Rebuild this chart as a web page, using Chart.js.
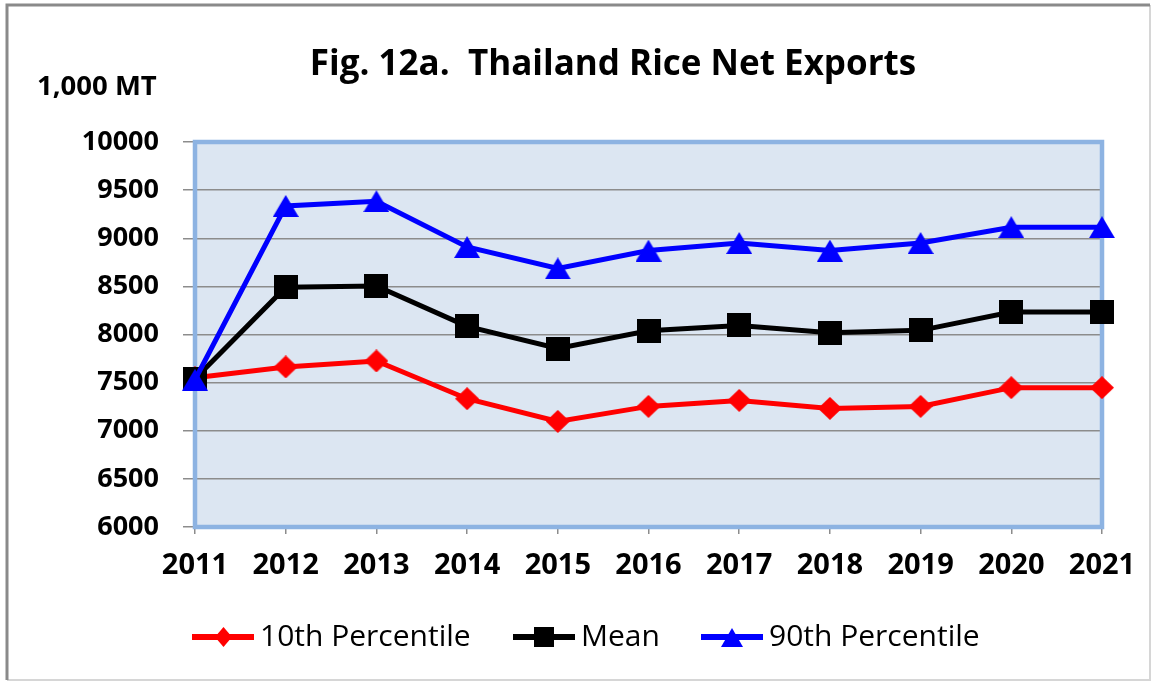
<!DOCTYPE html>
<html>
<head>
<meta charset="utf-8">
<script src="https://cdn.jsdelivr.net/npm/chart.js@4.4.1/dist/chart.umd.min.js"></script>
<style>
html,body{margin:0;padding:0;background:#fff;}
#wrap{width:1153px;height:682px;position:relative;}
canvas{display:block;}
</style>
</head>
<body>
<div id="wrap"><canvas id="c" width="1153" height="682"></canvas></div>
<script>
// ---- data ----
const years = ['2011','2012','2013','2014','2015','2016','2017','2018','2019','2020','2021'];
const p10Values  = [7550, 7663, 7725, 7333, 7097, 7253, 7315, 7232, 7253, 7448, 7448];
const meanValues = [7540, 8490, 8505, 8085, 7854, 8038, 8094, 8018, 8043, 8233, 8233];
const p90Values  = [7530, 9336, 9385, 8909, 8687, 8872, 8951, 8872, 8951, 9115, 9115];
const yTickValues = [6000, 6500, 7000, 7500, 8000, 8500, 9000, 9500, 10000];
const seriesNames = ['10th Percentile', 'Mean', '90th Percentile'];
const titleText = 'Fig. 12a.  Thailand Rice Net Exports';
const unitText = '1,000 MT';

// ---- marker images ----
function makeMarker(kind, color, w, h) {
  const c = document.createElement('canvas');
  c.width = w; c.height = h;
  const g = c.getContext('2d');
  g.fillStyle = color;
  g.beginPath();
  if (kind === 'diamond') { g.moveTo(w/2,0); g.lineTo(w,h/2); g.lineTo(w/2,h); g.lineTo(0,h/2); }
  else if (kind === 'square') { g.rect(0,0,w,h); }
  else { g.moveTo(w/2,0); g.lineTo(w,h); g.lineTo(0,h); }
  g.closePath(); g.fill();
  return c;
}
const mkDiamond = makeMarker('diamond', '#ff0000', 24, 23);
const mkSquare = makeMarker('square', '#000000', 24, 24);
const mkTriangle = makeMarker('triangle', '#0000ff', 26, 22);
const legDiamond = makeMarker('diamond', '#ff0000', 17, 20);
const legSquare = makeMarker('square', '#000000', 20, 20);
const legTriangle = makeMarker('triangle', '#0000ff', 22, 19);

const colors = ['#ff0000', '#000000', '#0000ff'];
const legendMarkers = [legDiamond, legSquare, legTriangle];

// ---- plugins ----
const decor = {
  id: 'decor',
  beforeDraw(chart) {
    const ctx = chart.ctx, a = chart.chartArea;
    ctx.save();
    ctx.fillStyle = '#ffffff';
    ctx.fillRect(0, 0, chart.width, chart.height);
    // outer frame
    ctx.strokeStyle = '#d6d6d6'; ctx.lineWidth = 2;
    ctx.beginPath(); ctx.moveTo(1150, 5); ctx.lineTo(1150, 680); ctx.lineTo(7, 680); ctx.stroke();
    ctx.strokeStyle = '#8a8a8a'; ctx.lineWidth = 3;
    ctx.beginPath(); ctx.moveTo(7, 680); ctx.lineTo(7, 5); ctx.lineTo(1150, 5); ctx.stroke();
    // plot background
    ctx.fillStyle = '#dce6f2';
    ctx.fillRect(a.left, a.top, a.right - a.left, a.bottom - a.top);
    ctx.restore();
  },
  beforeDatasetsDraw(chart) {
    const ctx = chart.ctx, a = chart.chartArea;
    ctx.save();
    ctx.strokeStyle = '#8db3e2'; ctx.lineWidth = 4.5;
    ctx.strokeRect(a.left, a.top, a.right - a.left, a.bottom - a.top);
    ctx.restore();
  },
  afterDraw(chart) {
    const ctx = chart.ctx;
    ctx.save();
    ctx.fillStyle = '#000';
    ctx.textBaseline = 'alphabetic';
    // title
    ctx.font = 'bold 35px "Open Sans"';
    ctx.textAlign = 'center';
    ctx.fillText(titleText, 613, 75);
    // unit label
    ctx.font = 'bold 27.5px "Open Sans"';
    ctx.textAlign = 'left';
    ctx.fillText(unitText, 37, 95);
    // legend
    const starts = [192, 513, 701];
    const ly = 637;
    ctx.font = '30px "Open Sans"';
    chart.data.datasets.forEach((ds, i) => {
      const x0 = starts[i], x1 = x0 + 62;
      ctx.strokeStyle = colors[i]; ctx.lineWidth = 6; ctx.lineCap = 'butt';
      ctx.beginPath(); ctx.moveTo(x0, ly); ctx.lineTo(x1, ly); ctx.stroke();
      const m = legendMarkers[i];
      ctx.drawImage(m, Math.round((x0 + x1) / 2 - m.width / 2), Math.round(ly - m.height / 2));
      ctx.fillStyle = '#000';
      ctx.fillText(ds.label, x1 + 6, 646);
    });
    ctx.restore();
  }
};

new Chart(document.getElementById('c'), {
  type: 'line',
  data: {
    labels: years,
    datasets: [
      { label: seriesNames[0], data: p10Values, borderColor: colors[0], backgroundColor: colors[0],
        borderWidth: 5, pointStyle: mkDiamond, pointRadius: 12, pointHoverRadius: 12, pointBorderWidth: 0,
        tension: 0, clip: false, order: 3 },
      { label: seriesNames[1], data: meanValues, borderColor: colors[1], backgroundColor: colors[1],
        borderWidth: 5, pointStyle: mkSquare, pointRadius: 12, pointHoverRadius: 12, pointBorderWidth: 0,
        tension: 0, clip: false, order: 2 },
      { label: seriesNames[2], data: p90Values, borderColor: colors[2], backgroundColor: colors[2],
        borderWidth: 5, pointStyle: mkTriangle, pointRadius: 12, pointHoverRadius: 12, pointBorderWidth: 0,
        tension: 0, clip: false, order: 1 }
    ]
  },
  options: {
    responsive: false,
    animation: false,
    devicePixelRatio: 1,
    layout: { padding: { left: 0, right: 51, top: 142, bottom: 0 } },
    plugins: { legend: { display: false }, title: { display: false }, tooltip: { enabled: false } },
    events: [],
    scales: {
      x: {
        offset: false,
        grid: { drawOnChartArea: false, drawTicks: true, tickLength: 7, color: '#8c8c8c', lineWidth: 1.5 },
        border: { display: false },
        ticks: { color: '#000', font: { family: 'Open Sans', size: 29, weight: 'bold' }, padding: 14, maxRotation: 0, autoSkip: false },
        afterFit(s) { s.height = 155; }
      },
      y: {
        min: yTickValues[0],
        max: yTickValues[yTickValues.length - 1],
        afterBuildTicks(s) { s.ticks = yTickValues.map(v => ({ value: v })); },
        grid: { drawTicks: true, tickLength: 12, color: '#8c8c8c', lineWidth: 1.5 },
        border: { display: false },
        ticks: { color: '#000', font: { family: 'Open Sans', size: 27, weight: 'bold' }, padding: 24,
                 callback: v => String(v) },
        afterFit(s) { s.width = 195; }
      }
    }
  },
  plugins: [decor]
});
</script>
</body>
</html>
